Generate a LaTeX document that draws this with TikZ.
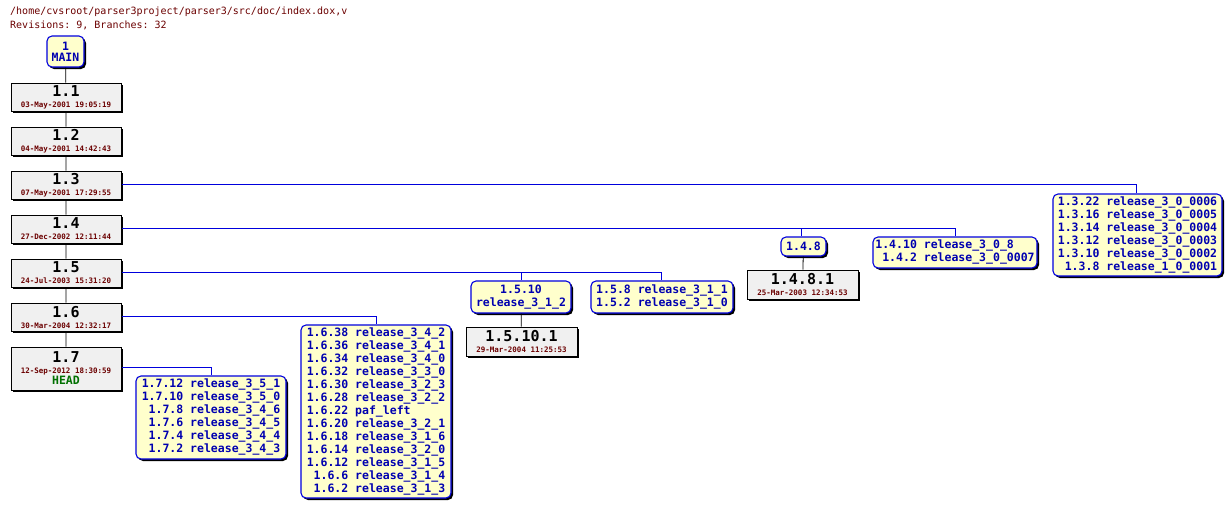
\documentclass[tikz,border=0pt]{standalone}
\usepackage{fontspec}
\setmonofont{DejaVu Sans Mono}
\usetikzlibrary{shadows}
\definecolor{tagblue}{HTML}{0000B0}
\definecolor{lineblue}{HTML}{0000DD}
\definecolor{datered}{HTML}{6B0000}
\definecolor{headgreen}{HTML}{007000}
\definecolor{tagfill}{HTML}{FFFFCC}
\definecolor{revfill}{HTML}{F0F0F0}
\tikzset{
  shad/.style={drop shadow={shadow xshift=2pt,shadow yshift=-2pt,fill=black,opacity=1}},
  rev/.style={draw=black,line width=1pt,fill=revfill,shad,minimum width=110pt,inner sep=0pt,align=center,font=\ttfamily\bfseries},
  tag/.style={draw=lineblue,line width=1.1pt,fill=tagfill,rounded corners=5pt,shad,inner sep=2pt,align=center,text=tagblue,font=\ttfamily\bfseries\fontsize{11.5}{13}\selectfont},
  trunk/.style={draw=black,line width=0.8pt},
  br/.style={draw=lineblue,line width=0.8pt},
}
\newcommand{\rv}[2]{{\fontsize{15}{15}\selectfont #1}\\[-1pt]{\color{datered}\fontsize{7.5}{8}\selectfont #2}}
\newcommand{\tl}[1]{\begin{tabular}{@{}r@{\ }l@{}}#1\end{tabular}}
\begin{document}
\begin{tikzpicture}[x=1pt,y=-1pt]
\useasboundingbox (0,0) rectangle (1232,509);
\node[anchor=west,text=datered,font=\ttfamily\fontsize{10}{12}\selectfont,inner sep=0pt] (t1) at (10,12) {/home/cvsroot/parser3project/parser3/src/doc/index.dox,v};
\node[anchor=west,text=datered,font=\ttfamily\fontsize{10}{12}\selectfont,inner sep=0pt] (t2) at (10,25) {Revisions: 9, Branches: 32};

\node[tag,minimum width=37pt,minimum height=31pt,inner sep=0pt] (main) at (65.5,51.5) {1\\[-2pt]MAIN};
\node[rev,minimum height=28pt] (r11) at (66,97) {\rv{1.1}{03-May-2001 19:05:19}};
\node[rev,minimum height=28pt] (r12) at (66,141) {\rv{1.2}{04-May-2001 14:42:43}};
\node[rev,minimum height=28pt] (r13) at (66,185) {\rv{1.3}{07-May-2001 17:29:55}};
\node[rev,minimum height=28pt] (r14) at (66,229) {\rv{1.4}{27-Dec-2002 12:11:44}};
\node[rev,minimum height=28pt] (r15) at (66,273) {\rv{1.5}{24-Jul-2003 15:31:20}};
\node[rev,minimum height=28pt] (r16) at (66,317) {\rv{1.6}{30-Mar-2004 12:32:17}};
\node[rev,minimum height=43pt] (r17) at (66,368.5) {\rv{1.7}{12-Sep-2012 18:30:59}\\[-1pt]{\color{headgreen}\fontsize{11.5}{12}\selectfont HEAD}};
\draw[trunk] (main) -- (r11) -- (r12) -- (r13) -- (r14) -- (r15) -- (r16) -- (r17);

% 1.3 branch
\node[tag,minimum width=169pt,minimum height=82pt] (b13) at (1137.5,235) {\tl{1.3.22 & release\_3\_0\_0006\\1.3.16 & release\_3\_0\_0005\\1.3.14 & release\_3\_0\_0004\\1.3.12 & release\_3\_0\_0003\\1.3.10 & release\_3\_0\_0002\\1.3.8 & release\_1\_0\_0001}};
\draw[br] (r13.east |- 0,184) -| (b13.north -| 1136,0);

% 1.4 branches
\node[tag,minimum width=45pt,minimum height=19pt,inner sep=0pt] (b148) at (803.5,246.5) {1.4.8};
\node[rev,minimum height=29pt,minimum width=111pt] (r1481) at (802.5,284.5) {\rv{1.4.8.1}{25-Mar-2003 12:34:53}};
\draw[trunk] (b148) -- (r1481);
\node[tag,minimum width=164pt,minimum height=31pt] (b1410) at (955,252.5) {\tl{1.4.10 & release\_3\_0\_8\\1.4.2 & release\_3\_0\_0007}};
\draw[br] (r14.east |- 0,228) -| (b148.north -| 801,0);
\draw[br] (801,228) -| (b1410.north -| 955,0);

% 1.5 branches
\node[tag,minimum width=100pt,minimum height=32pt] (b1510) at (521,297) {1.5.10\\release\_3\_1\_2};
\node[rev,minimum height=29pt,minimum width=111pt] (r15101) at (521.5,341.5) {\rv{1.5.10.1}{29-Mar-2004 11:25:53}};
\draw[trunk] (b1510) -- (r15101);
\node[tag,minimum width=142pt,minimum height=32pt] (b158) at (662,297) {\tl{1.5.8 & release\_3\_1\_1\\1.5.2 & release\_3\_1\_0}};
\draw[br] (r15.east |- 0,272) -| (b1510.north -| 521,0);
\draw[br] (521,272) -| (b158.north -| 661,0);

% 1.6 branch
\node[tag,minimum width=150pt,minimum height=173pt] (b16) at (376,411.5) {\tl{1.6.38 & release\_3\_4\_2\\1.6.36 & release\_3\_4\_1\\1.6.34 & release\_3\_4\_0\\1.6.32 & release\_3\_3\_0\\1.6.30 & release\_3\_2\_3\\1.6.28 & release\_3\_2\_2\\1.6.22 & paf\_left\\1.6.20 & release\_3\_2\_1\\1.6.18 & release\_3\_1\_6\\1.6.14 & release\_3\_2\_0\\1.6.12 & release\_3\_1\_5\\1.6.6 & release\_3\_1\_4\\1.6.2 & release\_3\_1\_3}};
\draw[br] (r16.east |- 0,316) -| (b16.north);

% 1.7 branch
\node[tag,minimum width=150pt,minimum height=83pt] (b17) at (211,417.5) {\tl{1.7.12 & release\_3\_5\_1\\1.7.10 & release\_3\_5\_0\\1.7.8 & release\_3\_4\_6\\1.7.6 & release\_3\_4\_5\\1.7.4 & release\_3\_4\_4\\1.7.2 & release\_3\_4\_3}};
\draw[br] (r17.east |- 0,367) -| (b17.north);
\end{tikzpicture}
\end{document}
